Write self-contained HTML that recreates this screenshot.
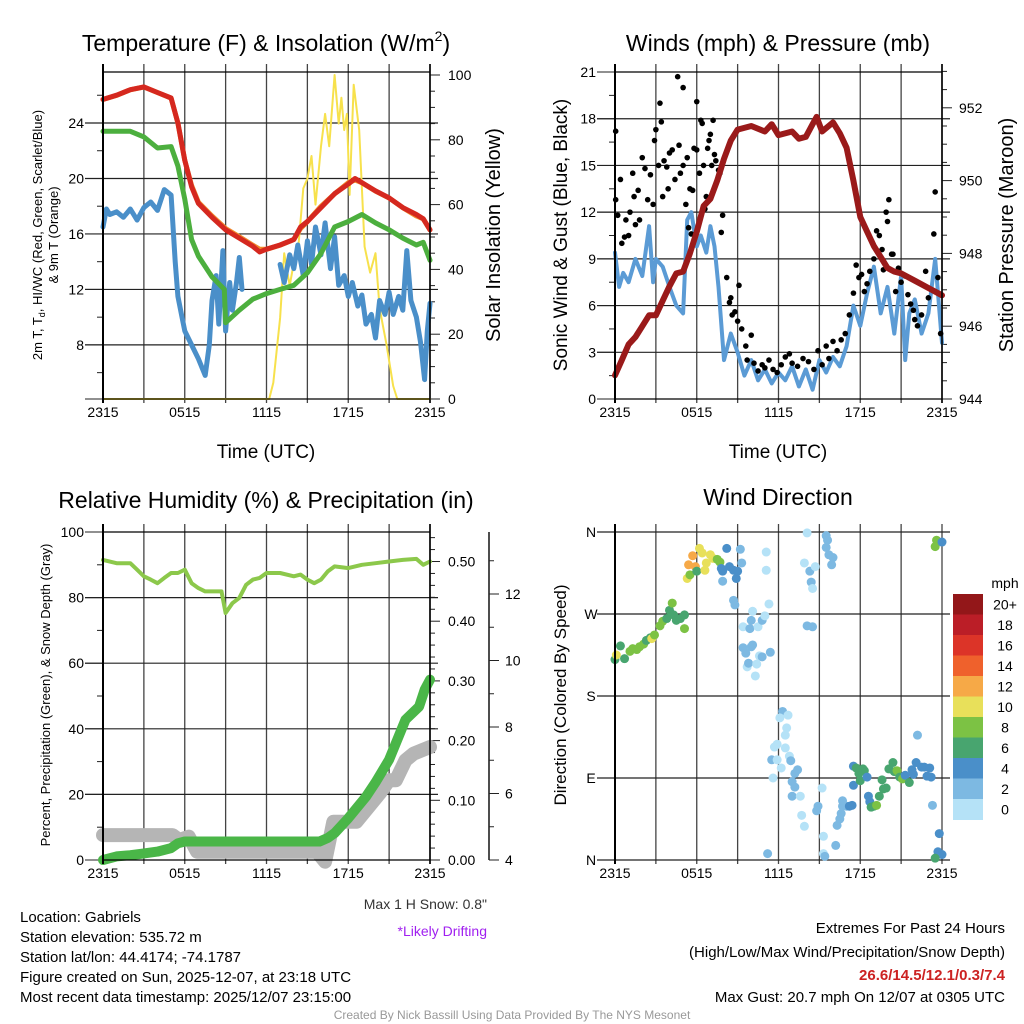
<!DOCTYPE html>
<html><head><meta charset="utf-8">
<style>
html,body{margin:0;padding:0;background:#fff;}
svg{display:block;font-family:"Liberation Sans",Arial,sans-serif;}
</style></head>
<body>
<svg id="chart" width="1024" height="1024" viewBox="0 0 1024 1024" xmlns="http://www.w3.org/2000/svg">
<rect x="0" y="0" width="1024" height="1024" fill="#fff"/>
<g id="layer"></g>
<!-- titles -->
<text x="266" y="51" font-size="23" text-anchor="middle">Temperature (F) &amp; Insolation (W/m<tspan font-size="14" dy="-10">2</tspan><tspan dy="10">)</tspan></text>
<text x="778" y="51" font-size="23" text-anchor="middle">Winds (mph) &amp; Pressure (mb)</text>
<text x="266" y="508" font-size="23" text-anchor="middle">Relative Humidity (%) &amp; Precipitation (in)</text>
<text x="778" y="505" font-size="23" text-anchor="middle">Wind Direction</text>
<!-- axis titles -->
<text transform="translate(42,235) rotate(-90)" font-size="13" text-anchor="middle">2m T, T<tspan font-size="9" dy="3">d</tspan><tspan dy="-3">, HI/WC (Red, Green, Scarlet/Blue)</tspan></text>
<text transform="translate(58,235) rotate(-90)" font-size="13" text-anchor="middle">&amp; 9m T (Orange)</text>
<text transform="translate(500,235) rotate(-90)" font-size="20" text-anchor="middle">Solar Insolation (Yellow)</text>
<text x="266" y="458" font-size="19" text-anchor="middle">Time (UTC)</text>
<text transform="translate(567,235) rotate(-90)" font-size="19" text-anchor="middle">Sonic Wind &amp; Gust (Blue, Black)</text>
<text transform="translate(1013,235) rotate(-90)" font-size="20" text-anchor="middle">Station Pressure (Maroon)</text>
<text x="778" y="458" font-size="19" text-anchor="middle">Time (UTC)</text>
<text transform="translate(50,695) rotate(-90)" font-size="13" text-anchor="middle">Percent, Precipitation (Green), &amp; Snow Depth (Gray)</text>
<text transform="translate(566,695) rotate(-90)" font-size="17" text-anchor="middle">Direction (Colored By Speed)</text>
<text x="1005" y="588" font-size="14" text-anchor="middle">mph</text>
<!-- footer text -->
<text x="487" y="909" font-size="14" fill="#333" text-anchor="end">Max 1 H Snow: 0.8"</text>
<text x="487" y="936" font-size="14" fill="#a020f0" text-anchor="end">*Likely Drifting</text>
<g font-size="15">
<text x="20" y="922">Location: Gabriels</text>
<text x="20" y="942">Station elevation: 535.72 m</text>
<text x="20" y="962">Station lat/lon: 44.4174; -74.1787</text>
<text x="20" y="982">Figure created on Sun, 2025-12-07, at 23:18 UTC</text>
<text x="20" y="1002">Most recent data timestamp: 2025/12/07 23:15:00</text>
</g>
<g font-size="15" text-anchor="end">
<text x="1005" y="933">Extremes For Past 24 Hours</text>
<text x="1005" y="957">(High/Low/Max Wind/Precipitation/Snow Depth)</text>
<text x="1005" y="980" fill="#cc2222" font-weight="bold">26.6/14.5/12.1/0.3/7.4</text>
<text x="1005" y="1002">Max Gust: 20.7 mph On 12/07 at 0305 UTC</text>
</g>
<text x="512" y="1019" font-size="12" fill="#999" text-anchor="middle">Created By Nick Bassill Using Data Provided By The NYS Mesonet</text>
</svg>
<script>
// ---------- data ----------
const xTickLabels = ["2315","0515","1115","1715","2315"];
const tempT = [0,1,1.5,2,3,4,5,5.5,6,6.5,7,8,9,10,11,11.5,12,13,14,14.5,15,16,17,18,18.5,19,20,21,22,23,23.5,24];
const tempRed = [25.7,26.0,26.2,26.4,26.6,26.2,25.8,24.0,21.3,19.4,18.2,17.2,16.3,15.7,15.1,14.7,14.9,15.2,15.6,16.5,16.9,17.9,18.9,19.6,20.0,19.7,19.1,18.6,17.9,17.4,17.1,16.3];
const temp9m = [25.8,26.1,26.3,26.5,26.7,26.3,25.9,24.1,21.4,19.6,18.4,17.4,16.5,15.9,15.3,15.0,15.0,15.3,15.7,16.5,17.0,18.1,19.0,19.8,20.0,19.8,19.2,18.7,18.0,17.4,17.2,16.4];
const dewT = [0,2,3,4,5,5.5,6,6.5,7,8,8.9,9,10,11,12,13,14,15,16,17,18,19,20,21,22,23,23.5,24];
const dewpoint = [23.4,23.4,23.0,22.2,22.3,20.9,18.5,15.6,14.4,12.9,12.0,9.6,10.5,11.3,11.7,12.0,12.3,13.2,14.6,16.5,16.9,17.4,16.8,16.3,15.7,15.2,15.4,14.1];
const wcT = [0,0.25,0.5,1,1.5,2,2.5,3,3.5,4,4.5,5,5.3,5.5,5.8,6,6.5,7,7.5,7.8,8,8.3,8.5,8.8,9,9.3,9.5,9.8,10,10.2,10.5,13,13.3,13.7,14,14.3,14.7,15,15.3,15.6,16,16.3,16.7,17,17.3,17.7,18,18.3,18.7,19,19.3,19.7,20,20.3,20.7,21,21.3,21.7,22,22.3,22.6,23,23.3,23.6,23.8,24];
const windChill = [16.5,17.8,17.4,17.6,17.2,17.8,17.0,17.9,18.3,17.7,19.2,18.8,14.0,11.5,10.0,9.0,8.0,7.0,5.8,8.0,11.2,13.0,9.5,14.8,9.0,12.5,10.5,12.5,14.3,12.0,null,13.8,12.5,14.5,13.5,15.2,13.0,15.5,13.8,16.5,14.5,16.8,13.5,15.8,12.3,13.0,11.5,12.5,10.8,11.6,9.5,10.2,8.5,11.2,10.2,11.8,10.2,11.5,10.5,14.8,11.2,10.0,8.2,5.5,9.0,11.0];
const solT = [0,12.2,12.5,13,13.3,13.7,14,14.3,14.7,15,15.3,15.6,16,16.3,16.6,17,17.3,17.5,17.7,17.9,18.1,18.4,18.8,19.2,19.6,20,20.3,20.8,21.3,21.6,24];
const solar = [0,0,5,25,45,35,42,45,65,68,75,60,78,88,78,100,85,93,83,88,63,97,83,47,39,45,28,17,4,0,0];
const presT = [0,0.5,1,1.5,2,2.5,3,3.5,4,4.5,5,5.5,6,6.5,7,7.5,8,8.5,9,10,11,11.5,12,13,13.5,14,14.5,14.8,15.2,16,16.5,17,17.5,18,18.5,19,19.5,20,20.5,21,22,23,24];
const pressure = [944.65,945.07,945.5,945.7,946.0,946.3,946.3,946.7,947.1,947.45,947.5,948.0,948.6,949.3,949.5,950.0,950.6,951.1,951.4,951.5,951.35,951.55,951.25,951.35,951.15,951.2,951.55,951.75,951.35,951.6,951.3,950.9,950.0,949.0,948.6,948.2,947.9,947.6,947.5,947.45,947.25,947.05,946.85];
const windT = [0,0.3,0.6,1,1.5,2,2.5,2.8,3,3.5,4,4.5,5,5.3,5.6,6,6.3,6.7,7,7.3,7.6,8,8.5,9,9.5,10,10.5,11,11.5,12,12.5,13,13.5,14,14.5,15,15.5,16,16.5,17,17.5,18,18.5,19,19.5,20,20.5,21,21.3,21.6,22,22.5,23,23.5,24];
const windSpeed = [9.4,7.2,8.1,7.5,9.0,7.9,11.1,7.5,9.0,8.5,7.2,6.0,5.5,11.5,12.0,9.8,10.5,9.4,11.1,9.8,7.2,2.5,4.2,3.0,1.5,2.5,1.2,1.9,1.0,1.7,1.2,2.1,0.8,1.9,0.6,2.5,1.7,2.7,2.1,3.4,6.0,4.7,6.8,8.5,5.5,7.2,4.2,7.9,2.5,5.5,6.4,4.2,5.5,9.0,3.6];
const gustT = [0.05,0.05,0.2,0.4,0.5,0.7,0.8,1,1.1,1.3,1.4,1.5,1.7,1.8,2,2.2,2.4,2.6,2.8,2.9,3,3.2,3.3,3.4,3.5,3.6,3.8,3.9,4,4.2,4.4,4.6,4.7,4.8,5,5,5.2,5.3,5.4,5.5,5.6,5.7,5.8,6,6,6.2,6.3,6.4,6.5,6.6,6.7,6.8,6.9,7,7.1,7.2,7.3,7.4,7.6,7.7,7.8,7.9,8.2,8.4,8.5,8.6,8.8,9,9.1,9.3,9.6,9.7,10,10.2,10.5,10.8,11,11.3,11.6,11.9,12.2,12.5,12.8,13,13.4,13.8,14.2,14.6,14.9,15.2,15.5,15.7,16,16.3,16.6,16.9,17.2,17.5,17.7,17.9,18.1,18.3,18.5,18.7,19,19.2,19.4,19.6,19.7,19.9,20,20.1,20.3,20.4,20.6,20.8,21,21.3,21.5,21.7,21.9,22,22.2,22.5,22.8,23,23.4,23.5,23.7,23.9];
const gustSpeed = [17.2,12.8,11.8,14.1,10,10.4,11.5,10.5,12,14.5,13,11.2,13.4,11.5,15.5,14.8,12.8,14.4,12.5,16.6,17.3,15,19,17.8,13,15.3,14.9,13.5,15.8,16,14.1,20.7,16.3,14.5,20,15,12.5,15.5,11,13.5,10.6,13.4,16.1,16,19.1,14.5,17.9,17.7,15,12.2,13,16.1,16.6,17,15,17.9,15.7,15.3,14.7,14.5,10.7,11.8,7.8,6.2,6.5,5.4,5.6,5,7.3,4.5,3.4,2.5,4.1,2.3,1.8,2.2,2.0,2.5,1.9,1.7,2.2,2.7,2.9,2.3,2.1,2.6,2.4,1.9,3.1,2.2,3.4,2.6,3.7,3.1,3.8,4.2,5.4,6.8,8.6,7.8,8,6.9,7.4,8.2,9.0,10.8,10.5,9.6,8.3,12.0,11.4,12.8,9.3,9.3,6.9,8.4,7.5,7.9,6.7,6.1,5.7,5.1,4.7,5.4,8.2,6.5,10.6,13.3,7.8,4.2];
const rhT = [0,1,2,2.5,3,3.5,4,4.5,5,5.5,6,6.5,7,7.5,8,8.7,9,9.5,10,10.5,11,11.5,12,13,14,14.5,15,15.5,16,16.5,17,18,19,20,21,22,23,23.5,24];
const humidity = [91.5,90.5,90.5,88.5,86.5,85.5,84.4,86,87.5,87.5,88.5,84.4,82.9,81.9,81.9,81.9,75.3,78.3,79.9,83.9,85.5,86,87.5,87.5,86.5,87,85.5,84.4,85.5,88,89.5,89,90,90.5,91,91.5,91.8,90,91];
const precipT = [0,1,2,3,4,5,5.5,6,15.9,16.5,17,18,19.3,20,21,22.2,23.2,23.6,24];
const precip = [0,0.006,0.008,0.011,0.014,0.02,0.028,0.031,0.031,0.037,0.045,0.07,0.106,0.13,0.168,0.235,0.257,0.285,0.302];
const snowT = [0,5.1,5.6,6.3,6.9,15.7,16.3,16.9,18.6,19.5,20.3,21,21.5,22.2,22.8,24];
const snowDepth = [4.75,4.75,4.6,4.7,4.25,4.25,3.95,5.15,5.15,5.6,6.0,6.4,6.4,7.0,7.2,7.4];
const dirT = [0,0.1,0.4,0.7,1.1,1.3,1.6,1.8,2.1,2.3,2.6,2.7,2.9,3.3,3.5,3.8,4.0,4.2,4.3,4.5,4.8,5.1,5.1,5.3,5.5,5.4,5.7,5.9,6.0,6.2,6.4,6.6,6.7,7.0,7.2,7.5,7.7,7.8,7.9,7.9,8.2,8.4,8.7,8.9,9.0,9.2,9.3,8.7,8.8,9.4,9.9,10.0,10.1,10.5,10.8,11.0,11.3,9.4,9.6,10.0,10.1,9.7,9.8,10.4,10.6,10.8,11.4,10.3,11.1,11.1,14.1,13.9,14.3,14.4,14.5,14.7,14.1,14.5,15.5,15.6,15.5,15.7,16.0,15.9,12.3,12.1,12.7,12.6,12.5,11.7,11.9,12.5,11.5,11.9,12.2,12.8,12.9,13.4,13.2,13.0,13.2,13.0,13.6,11.6,13.7,13.9,15.2,14.9,14.8,15.3,15.3,15.4,11.2,16.2,16.3,16.5,16.6,16.7,16.7,17.0,17.4,17.2,17.5,17.5,17.7,17.9,18.0,18.2,18.3,18.5,18.6,18.7,18.8,19.0,19.2,19.4,19.6,19.7,19.9,20.1,20.4,20.5,20.7,20.9,21.1,21.3,21.6,21.8,21.9,22.1,22.2,22.5,22.7,22.9,23.1,23.2,23.3,23.5,23.6,24.0,23.8,23.7,24.0,23.5];
const dirDeg = [220,225,235,221,229,232,231,234,237,241,244,243,247,257,262,265,274,282,269,263,265,269,254,309,313,324,334,322,317,342,337,318,326,335,331,330,327,320,317,306,342,322,318,309,317,341,326,285,280,256,254,263,273,256,263,268,281,233,227,234,236,212,216,215,224,223,228,202,338,318,359,326,317,305,298,322,257,256,356,351,343,335,332,324,163,156,159,145,137,124,127,123,110,110,101,114,109,99,95,86,80,70,70,90,49,37,79,59,54,26,7,4,7,16,38,45,51,59,65,59,60,59,82,103,101,95,87,100,98,91,70,64,58,59,60,70,88,78,79,100,107,97,98,91,89,93,85,99,94,107,137,102,102,92,101,91,60,344,351,349,29,9,6,2];
const dirSpeed = [7,10,6,6,8,8,8,8,8,7,6,10,8,8,8,7,6,8,7,6,6,7,8,10,8,12,13,12,7,10,10,10,10,10,10,9,8,4,4,3,4,4,4,4,4,3,2,2,2,1,2,3,1,1,2,1,1,3,3,3,2,1,2,1,1,2,2,1,1,1,1,1,2,3,1,1,2,2,2,2,3,3,2,3,3,1,1,1,1,1,1,1,3,1,1,1,2,3,2,3,3,3,1,1,1,1,1,3,2,1,1,2,3,3,2,2,2,2,2,3,4,4,4,4,6,6,6,6,6,4,4,4,6,6,8,6,6,6,6,6,6,6,8,6,8,4,6,4,4,4,3,4,4,4,4,4,3,8,8,4,4,4,4,7];
const speedLabels = ["0","2","4","6","8","10","12","14","16","18","20+"];
const speedColors = ["#b5e2f7","#7db9e2","#4a8fc9","#48a56f","#7cc244","#e8e05a","#f6a947","#ef612c","#dc3428","#bb1e27","#931719"];

// ---------- helpers ----------
const NS = "http://www.w3.org/2000/svg";
const layer = document.getElementById('layer');
function mk(tag, attrs, name, parent) {
  const e = document.createElementNS(NS, tag);
  for (const k in attrs) e.setAttribute(k, attrs[k]);
  
  
  (parent || layer).appendChild(e);
  return e;
}
function txt(x, y, s, size, anchor, name) {
  const t = mk('text', {x: x, y: y, 'font-size': size, 'text-anchor': anchor}, name);
  t.textContent = s;
  return t;
}
function pathFrom(ts, vs, fx, fy) {
  let d = "", pen = false;
  for (let i = 0; i < Math.min(ts.length, vs.length); i++) {
    if (vs[i] === null) { pen = false; continue; }
    d += (pen ? "L" : "M") + fx(ts[i]).toFixed(1) + "," + fy(vs[i]).toFixed(1);
    pen = true;
  }
  return d;
}
function line(ts, vs, fx, fy, color, w, name) {
  mk('path', {d: pathFrom(ts, vs, fx, fy), fill: 'none', stroke: color, 'stroke-width': w, 'stroke-linejoin': 'round', 'stroke-linecap': 'round'}, name);
}
// generic panel frame with time grid
function timeFrame(x0, x1, y0, y1, prefix) {
  const fx = t => x0 + (x1 - x0) * t / 24;
  for (let h = 0; h <= 24; h += 3) {
    const x = fx(h);
    mk('line', {x1: x, y1: y0 - 8, x2: x, y2: y1 + 4, stroke: '#444', 'stroke-width': 1.3}, prefix + '-time-gridline');
  }
  xTickLabels.forEach((lab, i) => {
    txt(fx(i * 6), y1 + 18, lab, 14, 'middle', prefix + '-x-tick-label');
  });
  return fx;
}
function hGrid(x0, x1, y, name) {
  mk('line', {x1: x0 - 18, y1: y, x2: x1 + 8, y2: y, stroke: '#222', 'stroke-width': 1.2}, name);
}
function leftTicks(x, fy, lo, hi, step, minor, fmt, name) {
  for (let v = lo; v <= hi + 1e-9; v += minor) {
    const isMajor = Math.abs(v / step - Math.round(v / step)) < 1e-6;
    mk('line', {x1: x - (isMajor ? 18 : 6), y1: fy(v), x2: x, y2: fy(v), stroke: '#222', 'stroke-width': 1}, name + '-tick');
  }
}
function rightTicks(x, fy, lo, hi, step, minor, fmt, labelX, name) {
  for (let v = lo; v <= hi + 1e-9; v += minor) {
    const isMajor = Math.abs(v / step - Math.round(v / step)) < 1e-6;
    mk('line', {x1: x, y1: fy(v), x2: x + (isMajor ? 10 : 5), y2: fy(v), stroke: '#222', 'stroke-width': 1}, name + '-tick');
    if (isMajor) txt(labelX, fy(v) + 5, fmt(v), 14, 'start', name + '-tick-label');
  }
}
function frame(x0, x1, y0, y1, name) {
  mk('line', {x1: x0, y1: y0, x2: x1, y2: y0, stroke: '#000', 'stroke-width': 1.3}, name + '-top-border');
  mk('line', {x1: x0, y1: y0 - 8, x2: x0, y2: y1 + 4, stroke: '#000', 'stroke-width': 2}, name + '-left-axis');
  mk('line', {x1: x1, y1: y0 - 8, x2: x1, y2: y1 + 4, stroke: '#000', 'stroke-width': 1.6}, name + '-right-axis');
  mk('line', {x1: x0, y1: y1, x2: x1, y2: y1, stroke: '#000', 'stroke-width': 1.3}, name + '-bottom-border');
}

// ---------- panel 1: temperature ----------
(function () {
  const x0 = 103, x1 = 430, y0 = 72, y1 = 399;
  const fy = v => y1 - (v - 4.1) * 13.87;
  const fs = v => y1 - v * 3.24;
  const fx = timeFrame(x0, x1, y0, y1, 'temperature');
  [8, 12, 16, 20, 24].forEach(v => { hGrid(x0, x1, fy(v), 'temperature-gridline'); txt(84, fy(v) + 5, String(v), 14, 'end', 'temperature-y-tick-label'); });
  leftTicks(x0, fy, 6, 26, 4, 2, null, 'temperature-y');
  mk('line', {x1: x0 - 18, y1: y1, x2: x0, y2: y1, stroke: '#222'}, 'temperature-y-base-tick');
  rightTicks(x1, fs, 0, 100, 20, 5, v => String(v), 448, 'insolation-y');
  line(solT, solar, fx, fs, '#f7e14c', 2, 'insolation-line');
  line(wcT, windChill, fx, fy, '#4a8fc9', 5, 'wind-chill-line');
  line(dewT, dewpoint, fx, fy, '#4caf3e', 5, 'dewpoint-line');
  line(tempT, temp9m, fx, v => fy(v) + 1.5, '#f08a2c', 5, 'temperature-9m-line');
  line(tempT, tempRed, fx, fy, '#d5281f', 5, 'temperature-2m-line');
  frame(x0, x1, y0, y1, 'temperature-panel');
})();

// ---------- panel 2: winds & pressure ----------
(function () {
  const x0 = 615, x1 = 942, y0 = 72, y1 = 399;
  const fy = v => y1 - v * 15.57;
  const fp = p => y1 - (p - 944) * 36.4;
  const fx = timeFrame(x0, x1, y0, y1, 'wind');
  [0, 3, 6, 9, 12, 15, 18, 21].forEach(v => { if (v > 0 && v < 21) hGrid(x0, x1, fy(v), 'wind-gridline'); txt(596, fy(v) + 5, String(v), 14, 'end', 'wind-y-tick-label'); });
  leftTicks(x0, fy, 0, 21, 3, 1.5, null, 'wind-y');
  rightTicks(x1, fp, 944, 953, 2, 0.5, v => String(v), 959, 'pressure-y');
  line(windT, windSpeed, fx, fy, '#5b9bd5', 4, 'sonic-wind-line');
  const g = mk('g', {}, 'gust-points');
  for (let i = 0; i < Math.min(gustT.length, gustSpeed.length); i++) {
    mk('circle', {cx: fx(gustT[i]), cy: fy(gustSpeed[i]), r: 2.8, fill: '#000'}, 'gust-point', g);
  }
  line(presT, pressure, fx, fp, '#9a1a1a', 6, 'pressure-line');
  frame(x0, x1, y0, y1, 'wind-panel');
})();

// ---------- panel 3: humidity & precipitation ----------
(function () {
  const x0 = 103, x1 = 430, y0 = 532, y1 = 860;
  const fy = v => y1 - v * 3.28;
  const fpc = p => y1 - p * 597;
  const fsn = s => y1 - (s - 4) * 33.25;
  const fx = timeFrame(x0, x1, y0, y1, 'humidity');
  [0, 20, 40, 60, 80, 100].forEach(v => { if (v > 0 && v < 100) hGrid(x0, x1, fy(v), 'humidity-gridline'); txt(84, fy(v) + 5, String(v), 14, 'end', 'humidity-y-tick-label'); });
  leftTicks(x0, fy, 0, 100, 20, 10, null, 'humidity-y');
  rightTicks(x1, fpc, 0, 0.54, 0.1, 0.02, v => v.toFixed(2), 448, 'precip-y');
  // snow depth axis
  mk('line', {x1: 489, y1: y0, x2: 489, y2: y1, stroke: '#222', 'stroke-width': 1.6}, 'snow-axis');
  rightTicks(489, fsn, 4, 13.8, 2, 1, v => String(v), 505, 'snow-y');
  line(snowT, snowDepth, fx, fsn, '#b5b5b5', 14, 'snow-depth-line');
  line(precipT, precip, fx, fpc, '#4ab648', 10, 'precipitation-line');
  line(rhT, humidity, fx, fy, '#8cc84b', 4, 'humidity-line');
  frame(x0, x1, y0, y1, 'humidity-panel');
})();

// ---------- panel 4: wind direction ----------
(function () {
  const x0 = 615, x1 = 942, y0 = 532, y1 = 860;
  const fy = d => y1 - d * (y1 - y0) / 360;
  const fx = timeFrame(x0, x1, y0, y1, 'direction');
  const dirLabels = ["N", "E", "S", "W", "N"];
  dirLabels.forEach((lab, i) => { hGrid(x0, x1, fy(i * 90), 'direction-gridline'); txt(591, fy(i * 90) + 5, lab, 14, 'middle', 'direction-y-tick-label'); });
  const g = mk('g', {}, 'direction-points');
  for (let i = 0; i < Math.min(dirT.length, dirDeg.length, dirSpeed.length); i++) {
    const bin = Math.min(10, Math.floor(dirSpeed[i] / 2));
    mk('circle', {cx: fx(dirT[i]), cy: fy(dirDeg[i]), r: 4.5, fill: speedColors[bin]}, 'direction-point', g);
  }
  mk('line', {x1: x0, y1: y0 - 8, x2: x0, y2: y1 + 4, stroke: '#000', 'stroke-width': 2}, 'direction-left-axis');
  // colorbar
  const cb = mk('g', {}, 'speed-colorbar');
  const bh = 20.5, top = 594;
  for (let i = 0; i < speedColors.length; i++) {
    const k = speedColors.length - 1 - i;
    mk('rect', {x: 953, y: top + i * bh, width: 30, height: bh + 0.5, fill: speedColors[k]}, 'colorbar-box', cb);
    txt(1005, top + i * bh + bh / 2 + 5, speedLabels[k], 14, 'middle', 'colorbar-label');
  }
})();
</script>
</body></html>
